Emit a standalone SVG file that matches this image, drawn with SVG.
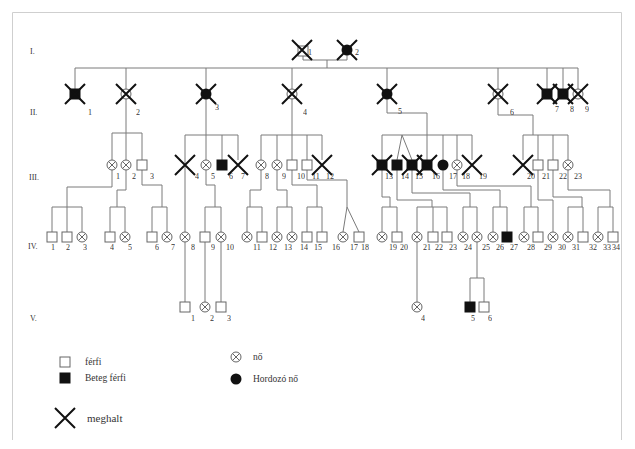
<svg xmlns="http://www.w3.org/2000/svg" width="635" height="449" viewBox="0 0 635 449">
<style>
.c{fill:none;stroke:#7a7a7a;stroke-width:1}
.t{font-family:"Liberation Serif",serif;font-size:8px;fill:#333;opacity:0.99}
.g{font-family:"Liberation Serif",serif;font-size:8px;fill:#333;opacity:0.99}
.lg{font-family:"Liberation Serif",serif;font-size:9.5px;fill:#333;opacity:0.99}
.mh{font-family:"Liberation Serif",serif;font-size:11px;fill:#333;opacity:0.99}
</style>
<defs>
<g id="m"><rect x="-5" y="-5" width="10" height="10" fill="#fff" stroke="#666"/></g>
<g id="ma"><rect x="-5.5" y="-5.5" width="11" height="11" fill="#111"/></g>
<g id="f"><circle r="5" fill="#fff" stroke="#666"/><path d="M-3.5 -3.5L3.5 3.5M3.5 -3.5L-3.5 3.5" stroke="#666"/></g>
<g id="fc"><circle r="5.5" fill="#111"/></g>
<g id="d"><path d="M-10 -10L10 10M10 -10L-10 10" stroke="#111" stroke-width="2" fill="none"/></g>
</defs>
<rect width="635" height="449" fill="#fff"/>
<path d="M12.5 440V12.5H621.5V440" fill="none" stroke="#cfcfcf"/>

<g id="gen-labels" class="g">
<text x="30" y="54">I.</text>
<text x="30" y="115">II.</text>
<text x="29" y="180">III.</text>
<text x="28" y="249">IV.</text>
<text x="30" y="321">V.</text>
</g>

<g id="connectors" class="c">
<path d="M303 55V60H347V55M327 60V68M75 68H578M75 68V89M126 68V160M206 68V160M292 68V160M387 68V113H427V160M498 68V115H533V135M547 68V89M563 68V89M578 68V89"/>
<path d="M112 133H142M112 133V160M142 133V160"/>
<path d="M185 135H238M185 135V232M222 135V160M238 135V160"/>
<path d="M261 135H322M261 135V160M277 135V160M307 135V160M322 135V160"/>
<path d="M382 135H472M382 135V160M397 160L402 135L412 160M443 135V160M457 135V160M472 135V160"/>
<path d="M523 135H568M523 135V160M538 135V160M553 135V160M568 135V160"/>
<path d="M112 170V187H67V207M52 207H82M52 207V232M67 207V232M82 207V232"/>
<path d="M126 170V190H117V207M110 207H125M110 207V232M125 207V232"/>
<path d="M142 170V185H162V207M152 207H167M152 207V232M167 207V232"/>
<path d="M206 170V185H215V207M205 207H221M205 207V232M221 207V232"/>
<path d="M261 170V190H250V207M247 207H262M247 207V232M262 207V232"/>
<path d="M277 170V190H287V207M277 207H292M277 207V232M292 207V232"/>
<path d="M292 170V185H317V207M307 207H322M307 207V232M322 207V232"/>
<path d="M307 170V180H347V207M343 232L347 207L359 232"/>
<path d="M382 170V197H390V207M382 207H397M382 207V232M397 207V232"/>
<path d="M397 170V200H432V207M417 207H447M417 207V232M433 207V232M447 207V232"/>
<path d="M412 170V193H470V207M463 207H477M463 207V232M477 207V232"/>
<path d="M443 170V190H500V207M493 207H507M493 207V232M507 207V232"/>
<path d="M457 170V186H531V207M524 207H538M524 207V232M538 207V232"/>
<path d="M538 170V200H553V232"/>
<path d="M553 170V197H582V207M568 207H583M568 207V232M583 207V232"/>
<path d="M568 170V190H610V207M598 207H613M598 207V232M613 207V232"/>
<path d="M185 242V302M205 242V302M221 242V302M417 242V302"/>
<path d="M477 242V278M470 278H484M470 278V302M484 278V302"/>
</g>

<g id="I-1"><use href="#m" x="303" y="51"/><use href="#d" x="302" y="50"/><text class="t" x="308" y="55">1</text></g>
<g id="I-2"><use href="#fc" x="347" y="50"/><use href="#d" x="347" y="50"/><text class="t" x="355" y="55">2</text></g>

<g id="II-1"><use href="#ma" x="75" y="94"/><use href="#d" x="75" y="94"/><text class="t" x="88" y="115">1</text></g>
<g id="II-2"><use href="#f" x="126" y="94"/><use href="#d" x="126" y="94"/><text class="t" x="136" y="115">2</text></g>
<g id="II-3"><use href="#fc" x="206" y="94"/><use href="#d" x="206" y="94"/><text class="t" x="215" y="110">3</text></g>
<g id="II-4"><use href="#f" x="292" y="94"/><use href="#d" x="292" y="94"/><text class="t" x="303" y="115">4</text></g>
<g id="II-5"><use href="#fc" x="387" y="94"/><use href="#d" x="387" y="94"/><text class="t" x="398" y="114">5</text></g>
<g id="II-6"><use href="#f" x="498" y="94"/><use href="#d" x="498" y="94"/><text class="t" x="510" y="115">6</text></g>
<g id="II-7"><use href="#ma" x="547" y="94"/><use href="#d" x="547" y="94"/><text class="t" x="555" y="112">7</text></g>
<g id="II-8"><use href="#ma" x="563" y="94"/><use href="#d" x="563" y="94"/><text class="t" x="570" y="112">8</text></g>
<g id="II-9"><use href="#f" x="578" y="94"/><use href="#d" x="578" y="94"/><text class="t" x="585" y="112">9</text></g>

<g id="III-1"><use href="#f" x="112" y="165"/><text class="t" x="116" y="179">1</text></g>
<g id="III-2"><use href="#f" x="126" y="165"/><text class="t" x="132" y="179">2</text></g>
<g id="III-3"><use href="#m" x="142" y="165"/><text class="t" x="150" y="179">3</text></g>
<g id="III-4"><use href="#d" x="185" y="165"/><text class="t" x="195" y="179">4</text></g>
<g id="III-5"><use href="#f" x="206" y="165"/><text class="t" x="211" y="179">5</text></g>
<g id="III-6"><use href="#ma" x="222" y="165"/><text class="t" x="229" y="179">6</text></g>
<g id="III-7"><use href="#d" x="238" y="165"/><text class="t" x="241" y="179">7</text></g>
<g id="III-8"><use href="#f" x="261" y="165"/><text class="t" x="265" y="179">8</text></g>
<g id="III-9"><use href="#f" x="277" y="165"/><text class="t" x="282" y="179">9</text></g>
<g id="III-10"><use href="#m" x="292" y="165"/><text class="t" x="297" y="179">10</text></g>
<g id="III-11"><use href="#m" x="307" y="165"/><text class="t" x="312" y="179">11</text></g>
<g id="III-12"><use href="#d" x="322" y="165"/><text class="t" x="326" y="179">12</text></g>
<g id="III-13"><use href="#ma" x="382" y="165"/><use href="#d" x="382" y="165"/><text class="t" x="385" y="179">13</text></g>
<g id="III-14"><use href="#ma" x="397" y="165"/><text class="t" x="401" y="179">14</text></g>
<g id="III-15"><use href="#ma" x="412" y="165"/><use href="#d" x="412" y="165"/><text class="t" x="415" y="179">15</text></g>
<g id="III-16"><use href="#ma" x="427" y="165"/><use href="#d" x="427" y="165"/><text class="t" x="432" y="179">16</text></g>
<g id="III-17"><use href="#fc" x="443" y="165"/><text class="t" x="449" y="179">17</text></g>
<g id="III-18"><use href="#f" x="457" y="165"/><text class="t" x="462" y="179">18</text></g>
<g id="III-19"><use href="#d" x="472" y="165"/><text class="t" x="479" y="179">19</text></g>
<g id="III-20"><use href="#d" x="523" y="165"/><text class="t" x="527" y="179">20</text></g>
<g id="III-21"><use href="#m" x="538" y="165"/><text class="t" x="542" y="179">21</text></g>
<g id="III-22"><use href="#m" x="553" y="165"/><text class="t" x="559" y="179">22</text></g>
<g id="III-23"><use href="#f" x="568" y="165"/><text class="t" x="574" y="179">23</text></g>

<g id="IV-1"><use href="#m" x="52" y="237"/><text class="t" x="51" y="250">1</text></g>
<g id="IV-2"><use href="#m" x="67" y="237"/><text class="t" x="66" y="250">2</text></g>
<g id="IV-3"><use href="#f" x="82" y="237"/><text class="t" x="83" y="250">3</text></g>
<g id="IV-4"><use href="#m" x="110" y="237"/><text class="t" x="110" y="250">4</text></g>
<g id="IV-5"><use href="#f" x="125" y="237"/><text class="t" x="128" y="250">5</text></g>
<g id="IV-6"><use href="#m" x="152" y="237"/><text class="t" x="155" y="250">6</text></g>
<g id="IV-7"><use href="#f" x="167" y="237"/><text class="t" x="171" y="250">7</text></g>
<g id="IV-8"><use href="#f" x="185" y="237"/><text class="t" x="191" y="250">8</text></g>
<g id="IV-9"><use href="#m" x="205" y="237"/><text class="t" x="211" y="250">9</text></g>
<g id="IV-10"><use href="#f" x="221" y="237"/><text class="t" x="226" y="250">10</text></g>
<g id="IV-11"><use href="#f" x="247" y="237"/><text class="t" x="253" y="250">11</text></g>
<g id="IV-12"><use href="#m" x="262" y="237"/><text class="t" x="269" y="250">12</text></g>
<g id="IV-13"><use href="#f" x="277" y="237"/><text class="t" x="284" y="250">13</text></g>
<g id="IV-14"><use href="#f" x="292" y="237"/><text class="t" x="300" y="250">14</text></g>
<g id="IV-15"><use href="#m" x="307" y="237"/><text class="t" x="314" y="250">15</text></g>
<g id="IV-16"><use href="#m" x="322" y="237"/><text class="t" x="332" y="250">16</text></g>
<g id="IV-17"><use href="#f" x="343" y="237"/><text class="t" x="350" y="250">17</text></g>
<g id="IV-18"><use href="#m" x="359" y="237"/><text class="t" x="361" y="250">18</text></g>
<g id="IV-19"><use href="#f" x="382" y="237"/><text class="t" x="389" y="250">19</text></g>
<g id="IV-20"><use href="#m" x="397" y="237"/><text class="t" x="400" y="250">20</text></g>
<g id="IV-21"><use href="#f" x="417" y="237"/><text class="t" x="423" y="250">21</text></g>
<g id="IV-22"><use href="#m" x="433" y="237"/><text class="t" x="435" y="250">22</text></g>
<g id="IV-23"><use href="#m" x="447" y="237"/><text class="t" x="449" y="250">23</text></g>
<g id="IV-24"><use href="#f" x="463" y="237"/><text class="t" x="464" y="250">24</text></g>
<g id="IV-25"><use href="#f" x="477" y="237"/><text class="t" x="482" y="250">25</text></g>
<g id="IV-26"><use href="#f" x="493" y="237"/><text class="t" x="496" y="250">26</text></g>
<g id="IV-27"><use href="#ma" x="507" y="237"/><text class="t" x="510" y="250">27</text></g>
<g id="IV-28"><use href="#f" x="524" y="237"/><text class="t" x="527" y="250">28</text></g>
<g id="IV-29"><use href="#m" x="538" y="237"/><text class="t" x="544" y="250">29</text></g>
<g id="IV-30"><use href="#f" x="553" y="237"/><text class="t" x="558" y="250">30</text></g>
<g id="IV-31"><use href="#f" x="568" y="237"/><text class="t" x="572" y="250">31</text></g>
<g id="IV-32"><use href="#m" x="583" y="237"/><text class="t" x="589" y="250">32</text></g>
<g id="IV-33"><use href="#f" x="598" y="237"/><text class="t" x="603" y="250">33</text></g>
<g id="IV-34"><use href="#m" x="613" y="237"/><text class="t" x="612" y="250">34</text></g>

<g id="V-1"><use href="#m" x="185" y="307"/><text class="t" x="191" y="321">1</text></g>
<g id="V-2"><use href="#f" x="205" y="307"/><text class="t" x="210" y="321">2</text></g>
<g id="V-3"><use href="#m" x="221" y="307"/><text class="t" x="227" y="321">3</text></g>
<g id="V-4"><use href="#f" x="417" y="307"/><text class="t" x="421" y="321">4</text></g>
<g id="V-5"><use href="#ma" x="470" y="307"/><text class="t" x="471" y="321">5</text></g>
<g id="V-6"><use href="#m" x="484" y="307"/><text class="t" x="488" y="321">6</text></g>

<g id="legend">
<use href="#m" x="65" y="362"/><text class="lg" x="85" y="365">férfi</text>
<use href="#ma" x="65" y="378"/><text class="lg" x="85" y="381">Beteg férfi</text>
<use href="#f" x="236" y="357"/><text class="lg" x="253" y="360">nő</text>
<use href="#fc" x="236" y="379"/><text class="lg" x="253" y="382">Hordozó nő</text>
<use href="#d" x="65" y="418"/><text class="mh" x="87" y="422">meghalt</text>
</g>
</svg>
